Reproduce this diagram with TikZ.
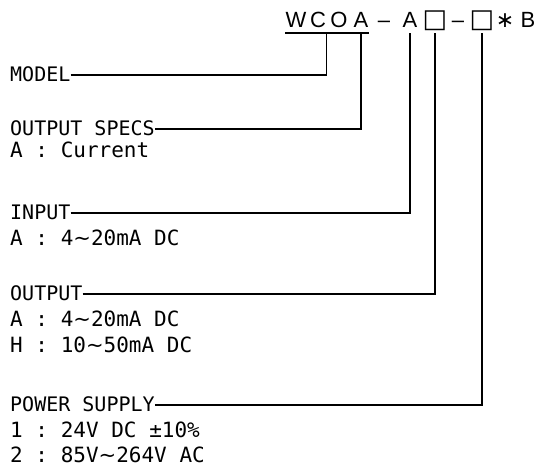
\documentclass[tikz,border=0pt]{standalone}
\usepackage{fontspec}
\setmonofont{DejaVu Sans Mono}
\newfontfamily\codefont{Liberation Sans}
\newfontfamily\symfont{DejaVu Sans}
\usetikzlibrary{positioning}
\newcommand{\wavedash}{{\symfont ∼}}
\tikzset{
  % one character of the type code
  codechar/.style={font=\codefont\fontsize{22}{22}\selectfont,
                   anchor=base, inner sep=0pt},
  % item title, the leader starts at its east side
  itemhead/.style={font=\ttfamily\fontsize{20}{20}\selectfont,
                   anchor=west, inner sep=0pt, text height=13pt, text depth=0pt},
  % option line under a title
  itemopt/.style={itemhead, font=\ttfamily\fontsize{21}{21}\selectfont},
  % leader from title to code
  leader/.style={line width=1.2pt},
}
\begin{document}
\begin{tikzpicture}[x=1pt, y=-1pt]
  \useasboundingbox (0,0) rectangle (540,469);
  % type code
  \foreach \ch/\x/\nm in {W/296/w, C/318/c, O/339/o, A/361/a, –/384/dasha,
      A/410/ain, {{\symfont\fontsize{26}{26}\selectfont □}}/435/boxout, –/458/dashb,
      {{\symfont\fontsize{26}{26}\selectfont □}}/482/boxpow,
      {{\symfont\fontsize{22}{22}\selectfont ∗}}/505/star, B/528/b}
    \node[codechar] (\nm) at (\x,27) {\ch};
  \draw[leader] ([yshift=-6pt]w.base west) -- ([yshift=-6pt]a.base east);
  \coordinate (topmodel) at ([yshift=-6pt]c.base east);
  \coordinate (topspec) at ([yshift=-6pt]a.base);
  \coordinate (topin) at ([yshift=-6pt]ain.base);
  \coordinate (topout) at ([yshift=-6pt]boxout.base);
  \coordinate (toppow) at ([yshift=-6pt]boxpow.base);

  % titles and options
  \node[itemhead] (model) at (10,75) {MODEL};
  \node[itemhead] (spec) at (10,129) {OUTPUT SPECS};
  \node[itemopt] (speca) at (10,151) {A : Current};
  \node[itemhead] (input) at (10,213) {INPUT};
  \node[itemopt] (inputa) at (10,239) {A : 4\wavedash 20mA DC};
  \node[itemhead] (output) at (10,294) {OUTPUT};
  \node[itemopt] (outputa) at (10,320) {A : 4\wavedash 20mA DC};
  \node[itemopt] (outputh) at (10,346) {H : 10\wavedash 50mA DC};
  \node[itemhead] (power) at (10,405) {POWER SUPPLY};
  \node[itemopt] (power1) at (10,431) {1 : 24V DC ±10\%};
  \node[itemopt] (power2) at (10,456) {2 : 85V\wavedash 264V AC};

  % leaders
  \draw[leader] (model.east) -| (topmodel);
  \draw[leader] (spec.east) -| (topspec);
  \draw[leader] (input.east) -| (topin);
  \draw[leader] (output.east) -| (topout);
  \draw[leader] (power.east) -| (toppow);
\end{tikzpicture}
\end{document}
